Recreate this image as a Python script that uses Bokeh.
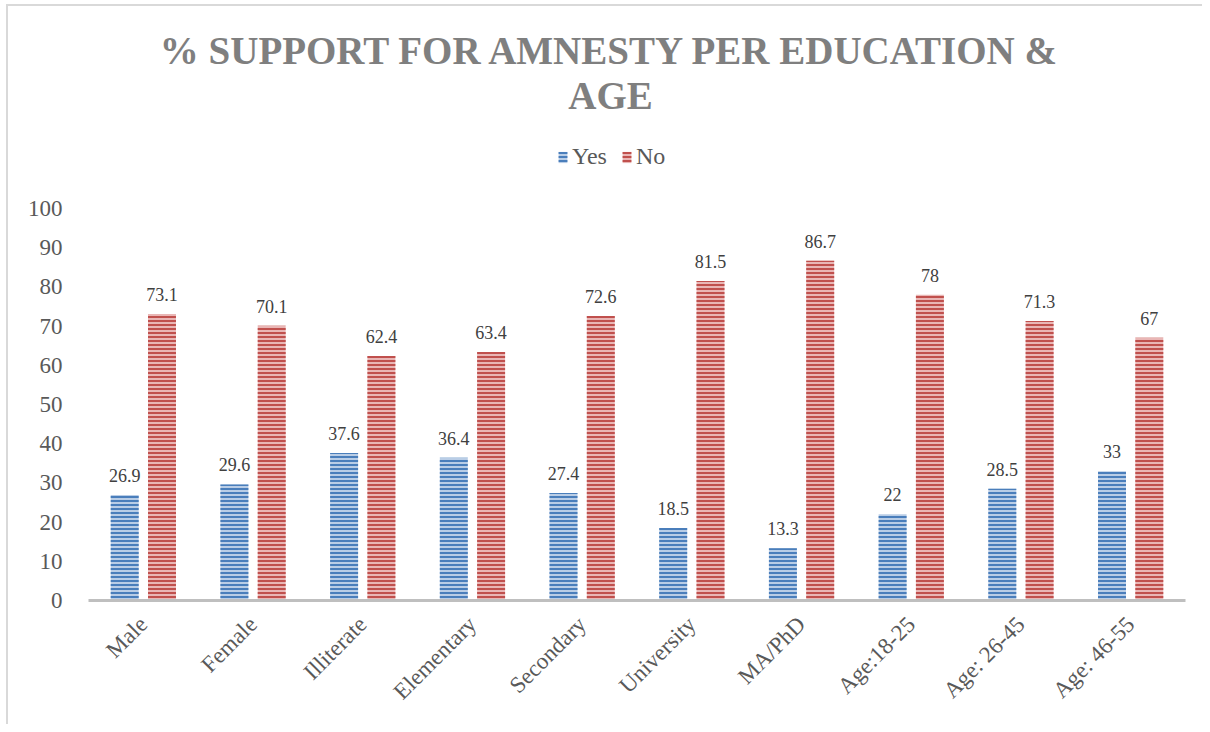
import math
from bokeh.plotting import figure
from bokeh.models import ColumnDataSource, Label, Legend, LegendItem, Range1d, FactorRange
from bokeh.transform import dodge
from bokeh.core.properties import value
from bokeh.embed import file_html
from bokeh.resources import INLINE

categories = ["Male", "Female", "Illiterate", "Elementary", "Secondary",
              "University", "MA/PhD", "Age:18-25", "Age: 26-45", "Age: 46-55"]
yes_vals = [26.9, 29.6, 37.6, 36.4, 27.4, 18.5, 13.3, 22, 28.5, 33]
no_vals = [73.1, 70.1, 62.4, 63.4, 72.6, 81.5, 86.7, 78, 71.3, 67]
yes_labels = ["26.9", "29.6", "37.6", "36.4", "27.4", "18.5", "13.3", "22", "28.5", "33"]
no_labels = ["73.1", "70.1", "62.4", "63.4", "72.6", "81.5", "86.7", "78", "71.3", "67"]
y_ticks = list(range(0, 101, 10))
title_line1 = "% SUPPORT FOR AMNESTY PER EDUCATION &"
title_line2 = "AGE"

FONT = "Liberation Serif"

# frame: 0..100 spans 392 px; frame extends upward to hold title and legend
FRAME_H = 594
Y_END = 100 * FRAME_H / 392

src = ColumnDataSource(dict(cat=categories, yes=yes_vals, no=no_vals,
                            yes_lab=yes_labels, no_lab=no_labels))

p = figure(x_range=FactorRange(*categories), y_range=Range1d(0, Y_END),
           frame_width=1097, frame_height=FRAME_H,
           min_border_left=80, min_border_right=17, min_border_top=0, min_border_bottom=124,
           output_backend="svg", toolbar_location=None)
p.styles = {"margin-left": "6px", "margin-top": "4px",
            "border-left": "2px solid #d9d9d9", "border-top": "2px solid #d9d9d9"}
p.outline_line_color = None
p.background_fill_color = "white"
p.border_fill_color = "white"
p.xgrid.grid_line_color = None
p.ygrid.grid_line_color = None
p.x_range.range_padding = 0
p.x_range.group_padding = 0

r_yes = p.vbar(x=dodge("cat", -0.17, range=p.x_range), top="yes", width=0.255, source=src,
               fill_color="#b9cde6", line_color=None,
               hatch_pattern="horizontal_line", hatch_color="#4a7ebb",
               hatch_scale=4, hatch_weight=2)
r_no = p.vbar(x=dodge("cat", 0.17, range=p.x_range), top="no", width=0.255, source=src,
              fill_color="#e9b6b5", line_color=None,
              hatch_pattern="horizontal_line", hatch_color="#c0504d",
              hatch_scale=4, hatch_weight=2)

p.text(x=dodge("cat", -0.17, range=p.x_range), y="yes", text="yes_lab", source=src,
       text_align="center", text_baseline="bottom", y_offset=-13,
       text_font=value(FONT), text_font_size="18px", text_color="#404040")
p.text(x=dodge("cat", 0.17, range=p.x_range), y="no", text="no_lab", source=src,
       text_align="center", text_baseline="bottom", y_offset=-13,
       text_font=value(FONT), text_font_size="18px", text_color="#404040")

# axes
p.yaxis.ticker = y_ticks
p.yaxis.axis_line_color = None
p.yaxis.major_tick_line_color = None
p.yaxis.minor_tick_line_color = None
p.yaxis.major_label_text_font = FONT
p.yaxis.major_label_text_font_size = "23px"
p.yaxis.major_label_text_color = "#595959"
p.yaxis.major_label_standoff = 20

p.xaxis.axis_line_color = "#bfbfbf"
p.xaxis.axis_line_width = 3
p.xaxis.major_tick_line_color = None
p.xaxis.minor_tick_line_color = None
p.xaxis.major_label_orientation = math.pi / 4
p.xaxis.major_label_text_font = FONT
p.xaxis.major_label_text_font_size = "23px"
p.xaxis.major_label_text_color = "#595959"
p.xaxis.major_label_standoff = 14

# title (screen units relative to frame bottom-left)
for txt, yy in [(title_line1, 550), (title_line2, 505)]:
    p.add_layout(Label(x=522, y=yy, x_units="screen", y_units="screen", text=txt,
                       text_align="center", text_baseline="middle",
                       text_font=FONT, text_font_style="bold", text_font_size="39px",
                       text_color="#7f7f7f"))

legend = Legend(items=[LegendItem(label="Yes", renderers=[r_yes]),
                       LegendItem(label="No", renderers=[r_no])],
                location=(469, 430), orientation="horizontal",
                border_line_color=None, background_fill_alpha=0,
                padding=0, margin=0, spacing=14,
                glyph_width=11, glyph_height=14, label_standoff=4,
                label_text_font=FONT, label_text_font_size="24px",
                label_text_color="#595959")
p.add_layout(legend, "center")

open("out.html", "w").write(file_html(p, INLINE))
